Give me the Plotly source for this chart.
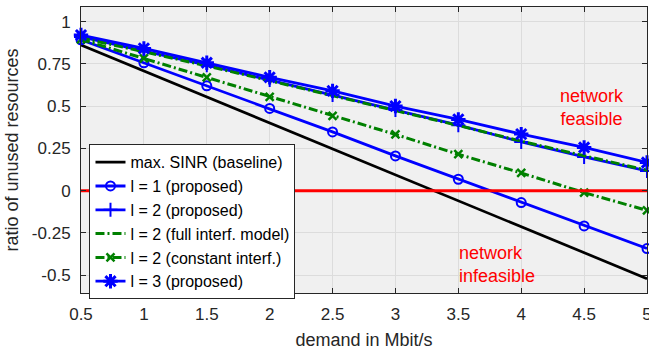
import plotly.graph_objects as go

demand = [0.5, 1.0, 1.5, 2.0, 2.5, 3.0, 3.5, 4.0, 4.5, 5.0]
max_sinr = [0.862, 0.708, 0.555, 0.401, 0.248, 0.094, -0.059, -0.213, -0.366, -0.520]
l1_prop = [0.893, 0.757, 0.621, 0.487, 0.348, 0.206, 0.068, -0.070, -0.208, -0.342]
l2_prop = [0.910, 0.828, 0.743, 0.655, 0.566, 0.477, 0.388, 0.289, 0.200, 0.117]
l2_full = [0.905, 0.824, 0.739, 0.651, 0.563, 0.475, 0.386, 0.293, 0.205, 0.121]
l2_const = [0.895, 0.783, 0.671, 0.556, 0.443, 0.333, 0.216, 0.105, -0.011, -0.116]
l3_prop = [0.921, 0.842, 0.757, 0.671, 0.591, 0.501, 0.422, 0.335, 0.256, 0.167]
boundary_x = [0.5, 5.0]
boundary_y = [0.0, 0.0]

x_ticks = [0.5, 1, 1.5, 2, 2.5, 3, 3.5, 4, 4.5, 5]
x_ticklabels = ["0.5", "1", "1.5", "2", "2.5", "3", "3.5", "4", "4.5", "5"]
y_ticks = [-0.5, -0.25, 0, 0.25, 0.5, 0.75, 1]
y_ticklabels = ["-0.5", "-0.25", "0", "0.25", "0.5", "0.75", "1"]

BLUE = "#0000ff"
GREEN = "#008000"
AX = "#262626"
FONT = "Liberation Sans, Arial, sans-serif"

fig = go.Figure()

fig.add_trace(go.Scatter(x=demand, y=max_sinr, mode="lines", name="max. SINR (baseline)",
                         line=dict(color="black", width=2.7), legendgroup="a"))
fig.add_trace(go.Scatter(x=demand, y=l1_prop, mode="lines+markers", name="l = 1 (proposed)",
                         line=dict(color=BLUE, width=2.8),
                         marker=dict(symbol="circle-open", size=9, color=BLUE, line=dict(width=2, color=BLUE)),
                         legendgroup="b", cliponaxis=False))
fig.add_trace(go.Scatter(x=demand, y=l2_prop, mode="lines+markers", name="l = 2 (proposed)",
                         line=dict(color=BLUE, width=2.8),
                         marker=dict(symbol="cross-thin-open", size=10, color=BLUE, line=dict(width=2, color=BLUE)),
                         legendgroup="c", cliponaxis=False))
fig.add_trace(go.Scatter(x=demand, y=l2_full, mode="lines", name="l = 2 (full interf. model)",
                         line=dict(color=GREEN, width=3, dash="9px,3px,2px,3px"),
                         legendgroup="d", cliponaxis=False))
fig.add_trace(go.Scatter(x=demand, y=l2_const, mode="lines+markers", name="l = 2 (constant interf.)",
                         line=dict(color=GREEN, width=3, dash="9px,3px,2px,3px"),
                         marker=dict(symbol="x-thin-open", size=8, color=GREEN, line=dict(width=2.5, color=GREEN)),
                         legendgroup="e", cliponaxis=False))
fig.add_trace(go.Scatter(x=demand, y=l3_prop, mode="lines+markers", name="l = 3 (proposed)",
                         line=dict(color=BLUE, width=2.8),
                         marker=dict(symbol="asterisk-open", size=12, color=BLUE, line=dict(width=3, color=BLUE)),
                         legendgroup="f", cliponaxis=False))
fig.add_trace(go.Scatter(x=boundary_x, y=boundary_y, mode="lines", showlegend=False,
                         line=dict(color="#ff0000", width=3), hoverinfo="skip"))

fig.add_annotation(x=4.56, y=0.495, xref="x", yref="y", text="network<br>feasible",
                   showarrow=False, font=dict(family=FONT, size=18, color="#ff0000"), align="center")
fig.add_annotation(x=3.49, y=-0.437, xref="x", yref="y", text="network<br>infeasible",
                   showarrow=False, font=dict(family=FONT, size=18, color="#ff0000"), align="left",
                   xanchor="left")

axis_common = dict(showline=True, linecolor=AX, linewidth=1, mirror="ticks", ticks="inside",
                   ticklen=5, tickcolor=AX, tickwidth=1, showgrid=True, gridcolor="#dcdcdc",
                   gridwidth=1, zeroline=False, tickfont=dict(family=FONT, size=17, color=AX),
                   automargin=False, ticklabeloverflow="allow")

fig.update_xaxes(range=[0.5, 5], tickvals=x_ticks, ticktext=x_ticklabels,
                 title=dict(text="demand in Mbit/s", font=dict(family=FONT, size=18, color=AX), standoff=12),
                 ticklabelstandoff=6, **axis_common)
fig.update_yaxes(range=[-0.605, 1.087], tickvals=y_ticks, ticktext=y_ticklabels,
                 title=dict(text="ratio of unused resources", font=dict(family=FONT, size=18, color=AX), standoff=8),
                 ticklabelstandoff=6, **axis_common)

fig.update_layout(
    width=649, height=350,
    margin=dict(l=81, r=2, t=7, b=57),
    plot_bgcolor="#f0f0f0", paper_bgcolor="white",
    font=dict(family=FONT, color=AX),
    legend=dict(x=0.015, y=0.52, xanchor="left", yanchor="top", bgcolor="white",
                bordercolor=AX, borderwidth=1, font=dict(family=FONT, size=16, color="black"),
                tracegroupgap=0, traceorder="normal"),
    showlegend=True,
)

fig.write_html("out.html", config={"displayModeBar": False},
               post_script="document.body.style.margin='0';document.body.style.overflow='hidden';")
